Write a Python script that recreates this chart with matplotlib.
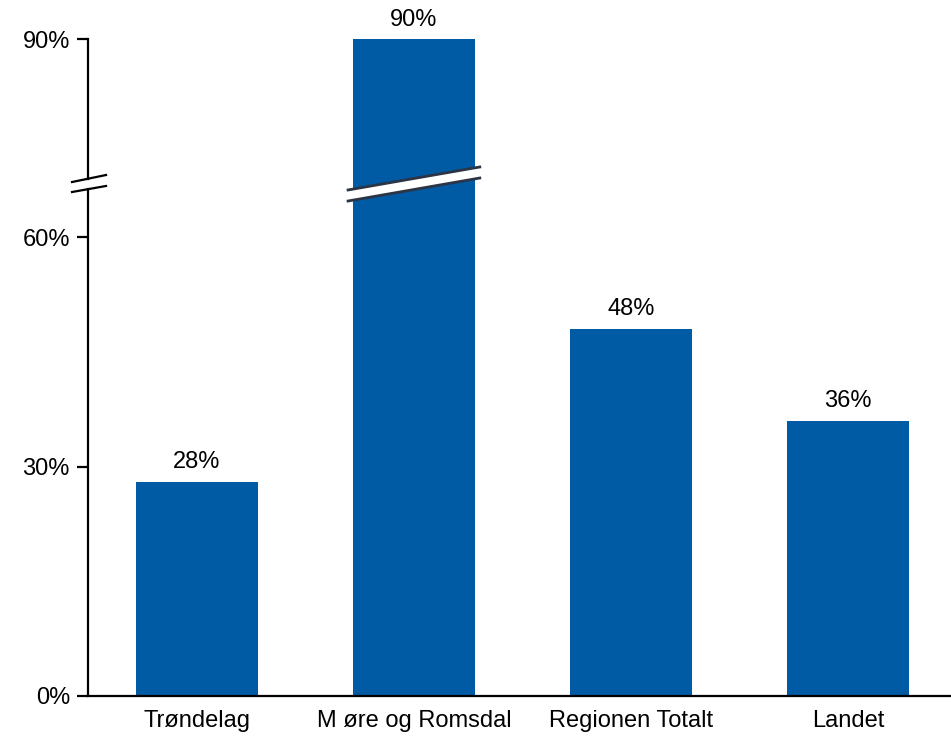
import numpy as np
import matplotlib
matplotlib.use("Agg")
from matplotlib import pyplot as plt
from matplotlib.transforms import blended_transform_factory

plt.rcParams['font.family'] = ['Liberation Sans', 'DejaVu Sans']

# data
kategorier = ["Trøndelag", "M øre og Romsdal", "Regionen Totalt", "Landet"]
andel = [28, 90, 48, 36]
y_ticks = [0, 30, 60, 90]
y_labels = ["0%", "30%", "60%", "90%"]

# brudd i y-aksen: lineær opp til 67 %, komprimert over
brudd = 67.0
faktor = 0.821


def fram(v):
    v = np.asarray(v, dtype=float)
    return np.where(v <= brudd, v, brudd + (v - brudd) * faktor)


def tilbake(v):
    v = np.asarray(v, dtype=float)
    return np.where(v <= brudd, v, brudd + (v - brudd) / faktor)


blaa = "#005aa4"
fs = 17
fig = plt.figure(figsize=(9.51, 7.36), dpi=100)
ax = fig.add_axes([88 / 951, 40 / 736, 863 / 951, 657 / 736])

x = np.arange(len(kategorier))
bredde = 0.562
ax.bar(x, andel, width=bredde, color=blaa, zorder=2)

ax.set_yscale('function', functions=(fram, tilbake))
ax.set_ylim(0, 90)
ax.set_xlim(-0.502, 3.475)

ax.set_yticks(y_ticks)
ax.set_yticklabels(y_labels)
ax.set_xticks(x)
ax.set_xticklabels(kategorier)
ax.tick_params(axis='y', length=8, width=1.6, pad=5, labelsize=fs)
ax.tick_params(axis='x', length=0, pad=10, labelsize=fs)

for s in ['top', 'right', 'left']:
    ax.spines[s].set_visible(False)
ax.spines['bottom'].set_linewidth(1.6)

# venstre akse i to deler med brudd
ta = ax.transAxes
ax.plot([0, 0], [0, 0.7713], color='black', lw=1.6, transform=ta, clip_on=False)
ax.plot([0, 0], [0.7874, 1.0], color='black', lw=1.6, transform=ta, clip_on=False)
ax.plot([-0.0185, 0.0209], [0.7823, 0.7930], color='black', lw=1.6, transform=ta, clip_on=False)
ax.plot([-0.0185, 0.0209], [0.7671, 0.7763], color='black', lw=1.6, transform=ta, clip_on=False)

# brudd i den høye søylen
i_max = int(np.argmax(andel))
bt = blended_transform_factory(ax.transData, ax.transAxes)
x0 = x[i_max] - bredde * 0.54
x1 = x[i_max] + bredde * 0.54
ax.fill([x0, x1, x1, x0], [0.7534, 0.7884, 0.8052, 0.7702], color='white',
        transform=bt, zorder=3, lw=0)
ax.plot([x0, x1], [0.7702, 0.8052], color='#2b3545', lw=2, transform=bt, zorder=4)
ax.plot([x0, x1], [0.7534, 0.7884], color='#2b3545', lw=2, transform=bt, zorder=4)

for xi, v in zip(x, andel):
    ax.annotate(f"{v}%", (xi, v), xytext=(0, 6), textcoords='offset points',
                ha='center', va='bottom', fontsize=fs, annotation_clip=False)

fig.savefig("out.png", dpi=100)
